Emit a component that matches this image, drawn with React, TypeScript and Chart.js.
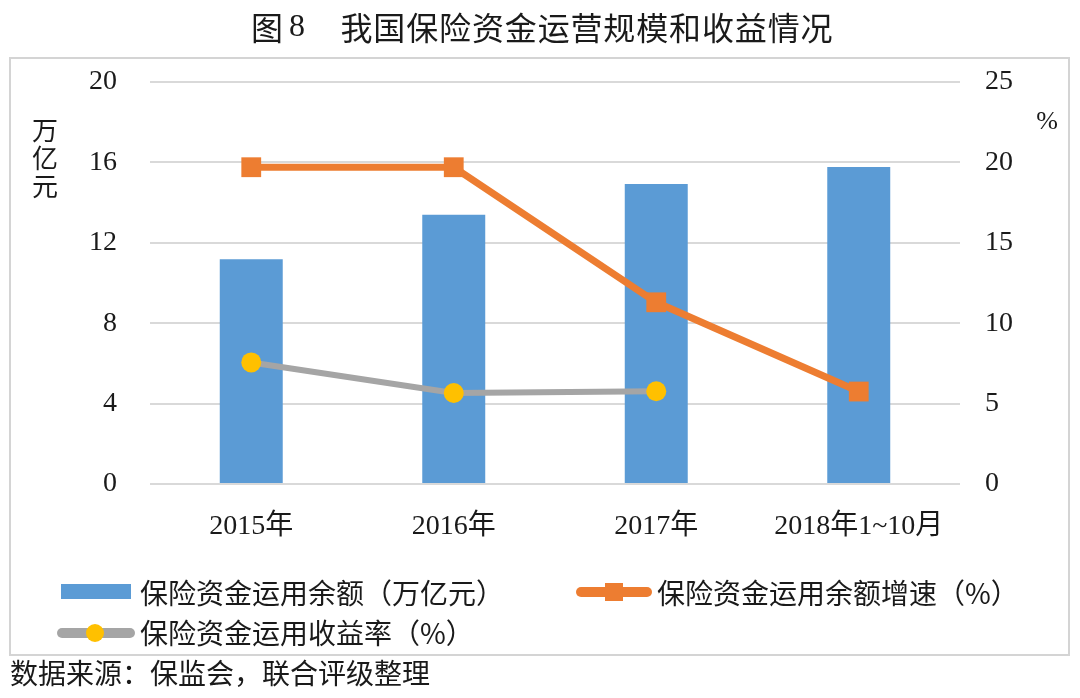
import React, { useEffect, useRef } from "react";
import { Chart, registerables } from "chart.js";

Chart.register(...registerables);

const categories = ["2015年", "2016年", "2017年", "2018年1~10月"];
const balanceValues = [11.18, 13.39, 14.92, 15.77];
const growthValues = [19.7, 19.7, 11.3, 5.75];
const yieldValues: (number | null)[] = [7.56, 5.66, 5.77, null];
const leftTicks = [0, 4, 8, 12, 16, 20];
const rightTicks = [0, 5, 10, 15, 20, 25];

const seriesNames = [
  "保险资金运用余额（万亿元）",
  "保险资金运用余额增速（%）",
  "保险资金运用收益率（%）",
];
const titleLead = ["图", "8"];
const titleMain = "我国保险资金运营规模和收益情况";
const leftUnit = ["万", "亿", "元"];
const rightUnit = "%";
const sourceText = "数据来源：保监会，联合评级整理";

const BLUE = "#5B9BD5";
const ORANGE = "#ED7D31";
const GRAY = "#A5A5A5";
const YELLOW = "#FFC000";
const CJK = "'Noto Sans CJK SC', sans-serif";
const SERIF = "'Liberation Serif', 'Times New Roman', 'Noto Sans CJK SC', serif";

const decorPlugin = {
  id: "decor",
  beforeDraw(chart: any) {
    const ctx = chart.ctx;
    ctx.save();
    ctx.fillStyle = "#ffffff";
    ctx.fillRect(0, 0, chart.width, chart.height);
    ctx.strokeStyle = "#d4d4d4";
    ctx.lineWidth = 2;
    ctx.strokeRect(10, 58, 1059, 597);
    ctx.restore();
  },
  afterDraw(chart: any) {
    const ctx = chart.ctx;
    ctx.save();
    ctx.fillStyle = "#1a1a1a";
    ctx.textBaseline = "middle";
    // title
    ctx.font = `32px ${CJK}`;
    ctx.textAlign = "center";
    ctx.fillText(titleLead[0], 267, 28);
    ctx.font = `32px ${SERIF}`;
    ctx.fillText(titleLead[1], 297, 28);
    ctx.font = `32px ${CJK}`;
    const pitch = (833 - 340) / titleMain.length;
    for (let i = 0; i < titleMain.length; i++) {
      ctx.fillText(titleMain[i], 340 + pitch * (i + 0.5), 28);
    }
    // unit labels
    ctx.font = `26px ${CJK}`;
    const unitY = [130, 158, 186];
    leftUnit.forEach((c, i) => ctx.fillText(c, 45, unitY[i]));
    ctx.font = `26px ${SERIF}`;
    ctx.fillText(rightUnit, 1047, 122);

    // legend
    const ds = chart.data.datasets;
    ctx.textAlign = "left";
    ctx.font = `28px ${CJK}`;
    // bar item
    ctx.fillStyle = ds[2].backgroundColor;
    ctx.fillRect(61, 584, 70, 15);
    ctx.fillStyle = "#1a1a1a";
    ctx.fillText(ds[2].label, 140, 593);
    // growth item
    ctx.strokeStyle = ds[0].borderColor;
    ctx.lineWidth = 10;
    ctx.lineCap = "round";
    ctx.beginPath();
    ctx.moveTo(581, 592);
    ctx.lineTo(647, 592);
    ctx.stroke();
    ctx.fillStyle = ds[0].pointBackgroundColor;
    ctx.fillRect(605, 583, 18, 18);
    ctx.fillStyle = "#1a1a1a";
    ctx.fillText(ds[0].label, 657, 593);
    // yield item
    ctx.strokeStyle = ds[1].borderColor;
    ctx.beginPath();
    ctx.moveTo(62, 633);
    ctx.lineTo(130, 633);
    ctx.stroke();
    ctx.fillStyle = ds[1].pointBackgroundColor;
    ctx.beginPath();
    ctx.arc(95, 633, 9, 0, Math.PI * 2);
    ctx.fill();
    ctx.fillStyle = "#1a1a1a";
    ctx.fillText(ds[1].label, 140, 633);

    // source
    ctx.font = `28px ${CJK}`;
    ctx.fillText(sourceText, 10, 673);
    ctx.restore();
  },
};

export default function App() {
  const ref = useRef<HTMLCanvasElement | null>(null);
  useEffect(() => {
    document.body.style.margin = "0";
    const canvas = ref.current!;
    const chart = new Chart(canvas, {
      type: "bar",
      data: {
        labels: categories,
        datasets: [
          {
            type: "line",
            label: seriesNames[1],
            data: growthValues,
            yAxisID: "y1",
            borderColor: ORANGE,
            borderWidth: 7,
            pointStyle: "rect",
            pointRadius: 14,
            pointHoverRadius: 14,
            pointBackgroundColor: ORANGE,
            pointBorderColor: ORANGE,
            pointBorderWidth: 0,
            order: 0,
          } as any,
          {
            type: "line",
            label: seriesNames[2],
            data: yieldValues,
            yAxisID: "y1",
            borderColor: GRAY,
            borderWidth: 6,
            pointStyle: "circle",
            pointRadius: 10,
            pointHoverRadius: 10,
            pointBackgroundColor: YELLOW,
            pointBorderColor: YELLOW,
            pointBorderWidth: 0,
            spanGaps: false,
            order: 1,
          } as any,
          {
            type: "bar",
            label: seriesNames[0],
            data: balanceValues,
            yAxisID: "y",
            backgroundColor: BLUE,
            categoryPercentage: 1,
            barPercentage: 0.311,
            order: 2,
          } as any,
        ],
      },
      options: {
        responsive: false,
        animation: false,
        devicePixelRatio: 1,
        layout: { padding: { top: 82, left: 0, right: 0, bottom: 0 } },
        plugins: {
          legend: { display: false },
          title: { display: false },
          tooltip: { enabled: false },
        },
        scales: {
          x: {
            position: "bottom",
            grid: { display: false },
            border: { display: false },
            ticks: {
              color: "#1a1a1a",
              font: { family: SERIF, size: 28 },
              padding: 18,
              maxRotation: 0,
              autoSkip: false,
            },
            afterFit: (s: any) => {
              s.height = 214;
            },
          },
          y: {
            position: "left",
            min: 0,
            max: 20,
            afterBuildTicks: (s: any) => {
              s.ticks = leftTicks.map((v) => ({ value: v }));
            },
            grid: { color: "#d9d9d9", lineWidth: 2, drawTicks: false },
            border: { display: false },
            ticks: {
              color: "#1a1a1a",
              font: { family: SERIF, size: 28 },
              padding: 33,
            },
            afterFit: (s: any) => {
              s.width = 150;
            },
          },
          y1: {
            position: "right",
            min: 0,
            max: 25,
            afterBuildTicks: (s: any) => {
              s.ticks = rightTicks.map((v) => ({ value: v }));
            },
            grid: { display: false, drawTicks: false },
            border: { display: false },
            ticks: {
              color: "#1a1a1a",
              font: { family: SERIF, size: 28 },
              padding: 25,
            },
            afterFit: (s: any) => {
              s.width = 120;
            },
          },
        },
      },
      plugins: [decorPlugin],
    });
    return () => chart.destroy();
  }, []);
  return (
    <div style={{ width: 1080, height: 698, position: "relative" }}>
      <canvas ref={ref} width={1080} height={698} style={{ display: "block" }} />
    </div>
  );
}
